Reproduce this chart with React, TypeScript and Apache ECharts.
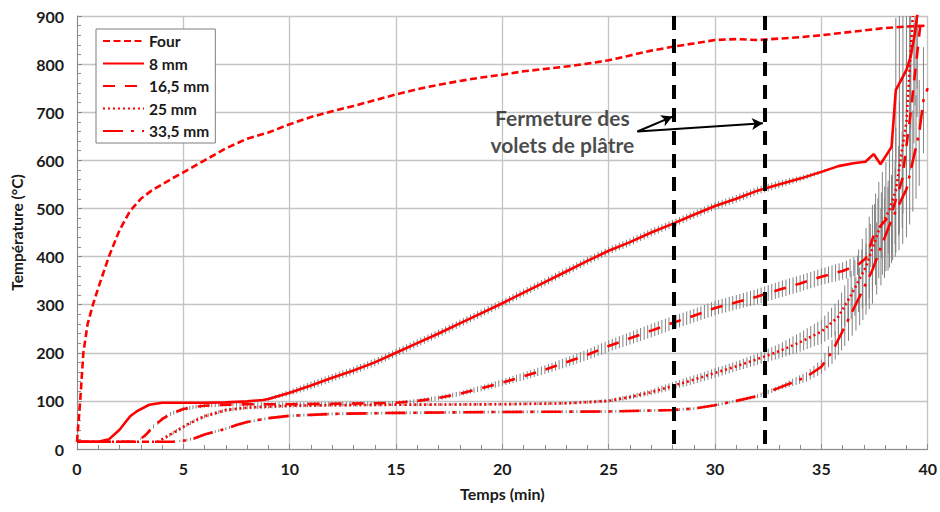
import { useEffect, useRef } from "react";
import * as echarts from "echarts";

// [time (min), temperature (°C)]
const four: number[][] = [
  [0, 15], [0.15, 100], [0.3, 200], [0.5, 260], [0.75, 300], [1, 335], [1.5, 400], [2, 455],
  [2.5, 495], [3, 520], [3.5, 537], [4, 550], [4.5, 563], [5, 575], [6, 600], [7, 625],
  [8, 645], [9, 658], [10, 675], [11, 690], [12, 702], [13, 713], [14, 725], [15, 737],
  [16, 748], [17, 757], [18, 765], [19, 772], [20, 778], [21, 785], [22, 790], [23, 795],
  [24, 801], [25, 808], [26, 818], [27, 828], [28, 836], [29, 843], [30, 850], [31, 852],
  [32, 850], [33, 853], [34, 856], [35, 860], [36, 865], [37, 870], [38, 875], [39, 878], [40, 880],
];

// [time (min), temperature (°C), error half-width (°C)]
const mm8: number[][] = [
  [0, 15, 0], [1, 15, 0], [1.5, 20, 0], [2, 40, 0], [2.5, 68, 0], [2.8, 78, 0], [3.4, 92, 0],
  [4, 96, 0], [5, 96, 0], [6, 96, 0], [7, 97, 0], [8, 99, 0], [8.75, 102, 0], [9, 104, 3],
  [10, 117, 6], [11, 132, 8], [12, 148, 8], [13, 163, 8], [14, 180, 8], [15, 200, 8],
  [16, 220, 8], [17, 240, 8], [18, 261, 8], [19, 282, 8], [20, 303, 8], [21, 325, 8],
  [22, 347, 8], [23, 369, 8], [24, 391, 8], [25, 412, 8], [26, 430, 8], [27, 450, 8],
  [28, 468, 8], [29, 487, 8], [30, 505, 8], [31, 520, 8], [32, 537, 8], [33, 550, 8],
  [34, 562, 6], [35, 576, 4], [35.8, 588, 0], [36.5, 594, 0], [37.07, 597, 0], [37.46, 613, 0],
  [37.78, 592, 0], [38.3, 628, 0], [38.5, 746, 150], [39, 788, 150], [39.2, 816, 150],
  [39.4, 864, 150], [39.5, 899, 150], [39.7, 960, 150],
];

const mm16: number[][] = [
  [0, 15, 0], [2.8, 15, 0], [3.2, 28, 4], [3.6, 47, 4], [4, 62, 4], [4.4, 73, 4], [5, 83, 4],
  [5.6, 88, 4], [6, 90, 4], [7, 92, 4], [8, 93, 4], [10, 93, 4], [12, 94, 4], [14, 95, 4],
  [15, 96, 4], [16, 100, 4], [17, 106, 5], [18, 115, 5], [19, 126, 6], [20, 138, 7],
  [21, 151, 8], [22, 165, 9], [23, 180, 10], [24, 196, 11], [25, 214, 12], [26, 230, 13],
  [27, 246, 14], [28, 262, 14], [29, 277, 14], [30, 293, 15], [31, 305, 15], [32, 317, 16],
  [33, 331, 17], [34, 344, 17], [35, 358, 17], [36, 370, 18], [36.7, 382, 20], [37.1, 397, 30],
  [37.5, 449, 60], [38.3, 490, 80], [38.8, 560, 100], [39.2, 700, 120], [39.5, 820, 130], [39.7, 900, 130],
];

const mm25: number[][] = [
  [0, 15, 0], [3.8, 15, 0], [4.2, 25, 4], [5, 46, 4], [5.5, 58, 4], [6, 68, 4], [7, 81, 4],
  [8, 86, 4], [9, 88, 4], [10, 90, 4], [12, 91, 3], [15, 92, 3], [20, 93, 3], [23, 95, 3],
  [25, 100, 4], [26, 108, 5], [27, 118, 6], [28, 131, 8], [29, 144, 9], [30, 158, 10],
  [31, 172, 10], [32, 187, 12], [33, 203, 15], [34, 222, 20], [35, 244, 25], [35.8, 275, 35],
  [36.4, 320, 50], [37.1, 379, 80], [37.7, 455, 100], [38.2, 497, 120], [38.5, 538, 130],
  [39, 680, 150], [39.3, 900, 150],
];

const mm33: number[][] = [
  [0, 15, 0], [4.5, 15, 0], [5, 17, 3], [5.5, 22, 3], [6, 30, 3], [7, 42, 3], [7.5, 50, 3],
  [8, 56, 3], [9, 64, 3], [10, 69, 3], [11, 71, 3], [12, 73, 3], [15, 75, 3], [20, 77, 3],
  [25, 78, 3], [28, 81, 3], [29, 84, 3], [30, 91, 3], [31, 100, 3], [32, 110, 4], [33, 127, 5],
  [34.3, 150, 10], [35, 171, 15], [35.5, 202, 25], [36.1, 254, 40], [36.8, 317, 60],
  [37.4, 372, 70], [37.8, 420, 80], [38.3, 476, 90], [39, 540, 100], [39.6, 657, 110],
  [39.8, 725, 110], [40, 750, 110],
];

const seriesNames = ["Four", "8 mm", "16,5 mm", "25 mm", "33,5 mm"];
const closureTimes = [28.07, 32.35];
const noteText = "Fermeture des\nvolets de plâtre";
const noteCenter = [22.82, 662];
const arrowStart = [26.35, 660];
const arrowTips = [[28.0, 691], [32.25, 677]];

const RED = "#ff0000";
const FONT = "Lato";

function segments(data: number[][]): number[][] {
  const out: number[][] = [];
  for (let i = 0; i < data.length - 1; i++) {
    const a = data[i], b = data[i + 1];
    if (a[2] > 0 || b[2] > 0) out.push([a[0], a[1], a[2], b[0], b[1], b[2]]);
  }
  return out;
}

function errorSeries(data: number[][]) {
  return {
    type: "custom",
    silent: true,
    clip: true,
    z: 1,
    encode: { x: [0, 3], y: [1, 4] },
    data: segments(data),
    renderItem: (_params: any, api: any) => {
      const p0 = api.coord([api.value(0), api.value(1)]);
      const p1 = api.coord([api.value(3), api.value(4)]);
      const h0 = api.size([0, api.value(2)])[1];
      const h1 = api.size([0, api.value(5)])[1];
      const n = Math.max(1, Math.round((p1[0] - p0[0]) / 3.6));
      const children: any[] = [];
      for (let i = 0; i < n; i++) {
        const t = i / n;
        const px = p0[0] + t * (p1[0] - p0[0]);
        const py = p0[1] + t * (p1[1] - p0[1]);
        const h = h0 + t * (h1 - h0);
        if (h < 0.8) continue;
        children.push({
          type: "line",
          shape: { x1: px, y1: py - h, x2: px, y2: py + h },
          style: { stroke: "#808080", lineWidth: 1 },
        });
      }
      return { type: "group", children };
    },
  };
}

function lineSeries(name: string, data: number[][], type: any) {
  return {
    name,
    type: "line",
    symbol: "none",
    z: 3,
    data: data.map((d) => [d[0], d[1]]),
    lineStyle: { color: RED, width: 2.6, type },
    itemStyle: { color: RED },
  };
}

export default function App() {
  const ref = useRef<HTMLDivElement>(null);
  useEffect(() => {
    if (!ref.current) return;
    const chart = echarts.init(ref.current, null, { renderer: "svg" });
    const closure = closureTimes.map((t) => ({
      type: "line",
      symbol: "none",
      silent: true,
      z: 4,
      data: [[t, 900], [t, 0]],
      lineStyle: { color: "#000", width: 4, type: [14, 9] },
    }));
    const labelStyle = { fontFamily: FONT, fontWeight: "bold", fontSize: 16, color: "#1a1a1a" };
    chart.setOption({
      animation: false,
      backgroundColor: "#fff",
      grid: { left: 77, right: 11, top: 16, bottom: 63 },
      xAxis: {
        type: "value",
        min: 0,
        max: 40,
        interval: 5,
        name: "Temps (min)",
        nameLocation: "middle",
        nameGap: 36,
        nameTextStyle: { ...labelStyle, fontSize: 16 },
        axisLine: { lineStyle: { color: "#8c8c8c", width: 1 } },
        axisTick: { show: true, inside: true, length: 5, lineStyle: { color: "#8c8c8c" } },
        minorTick: { show: true, splitNumber: 5, length: 4, lineStyle: { color: "#8c8c8c" } },
        axisLabel: { ...labelStyle, margin: 11 },
        splitLine: { show: true, lineStyle: { color: "#c4c4c4", width: 1.3 } },
      },
      yAxis: {
        type: "value",
        min: 0,
        max: 900,
        interval: 100,
        name: "Température (°C)",
        nameLocation: "middle",
        nameGap: 52,
        nameTextStyle: { ...labelStyle, fontSize: 15.5 },
        axisLine: { show: true, lineStyle: { color: "#8c8c8c", width: 1 } },
        axisTick: { show: true, inside: true, length: 5, lineStyle: { color: "#8c8c8c" } },
        minorTick: { show: true, splitNumber: 5, length: 4, lineStyle: { color: "#8c8c8c" } },
        axisLabel: { ...labelStyle, margin: 13 },
        splitLine: { show: true, lineStyle: { color: "#c4c4c4", width: 1.3 } },
      },
      legend: {
        data: seriesNames,
        orient: "vertical",
        left: 96,
        top: 29,
        padding: [4, 6, 4, 6],
        itemWidth: 41,
        itemHeight: 14,
        itemGap: 6.5,
        backgroundColor: "#fff",
        borderColor: "#7f7f7f",
        borderWidth: 1,
        borderRadius: 0,
        itemStyle: { opacity: 0 },
        textStyle: { ...labelStyle, fontSize: 15.5 },
      },
      series: [
        errorSeries(mm8),
        errorSeries(mm16),
        errorSeries(mm25),
        errorSeries(mm33),
        lineSeries(seriesNames[0], four, [7, 3.5]),
        lineSeries(seriesNames[1], mm8, "solid"),
        lineSeries(seriesNames[2], mm16, [12, 10]),
        lineSeries(seriesNames[3], mm25, [2, 3]),
        lineSeries(seriesNames[4], mm33, [20, 8, 3, 8]),
        ...closure,
        {
          type: "scatter",
          silent: true,
          z: 5,
          symbolSize: 0,
          data: [noteCenter],
          label: {
            show: true,
            position: "inside",
            formatter: noteText,
            fontFamily: FONT,
            fontWeight: "bold",
            fontSize: 21,
            lineHeight: 27,
            color: "#1a1a1a",
            align: "center",
            verticalAlign: "middle",
          },
          markLine: {
            silent: true,
            symbol: ["none", "arrow"],
            symbolSize: [9, 11],
            label: { show: false },
            lineStyle: { color: "#000", width: 2, type: "solid" },
            data: arrowTips.map((tip) => [{ coord: arrowStart }, { coord: tip }]),
          },
        },
      ],
    });
    return () => chart.dispose();
  }, []);
  return (
    <div
      ref={ref}
      style={{ position: "fixed", left: 0, top: 0, width: 940, height: 512 }}
    />
  );
}
